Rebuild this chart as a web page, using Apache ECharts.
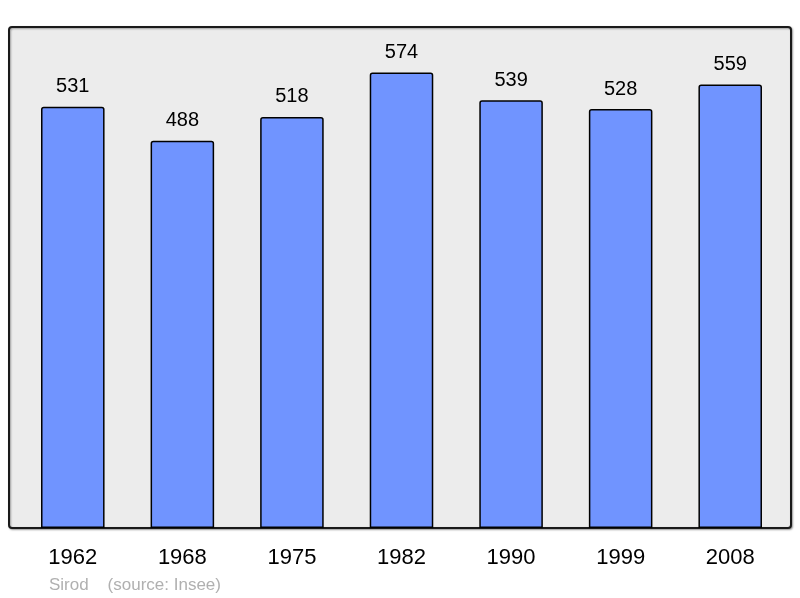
<!DOCTYPE html>
<html>
<head>
<meta charset="utf-8">
<script src="https://cdn.jsdelivr.net/npm/echarts@6/dist/echarts.min.js"></script>
<style>html,body{margin:0;padding:0;background:#fff}#c{width:800px;height:598px}</style>
</head>
<body>
<div id="c"></div>
<script>
var categories = ['1962', '1968', '1975', '1982', '1990', '1999', '2008'];
var population = [531, 488, 518, 574, 539, 528, 559];
var sourceText = 'Sirod    (source: Insee)';

var chart = echarts.init(document.getElementById('c'));
chart.setOption({
  animation: false,
  textStyle: { fontFamily: 'Liberation Sans, Arial, sans-serif' },
  graphic: [
    {
      type: 'rect', z: -10, silent: true,
      shape: { x: 9, y: 27, width: 782, height: 501, r: 3 },
      style: { fill: '#ececec', stroke: '#1a1a1a', lineWidth: 2,
               shadowBlur: 2, shadowColor: 'rgba(0,0,0,0.35)', shadowOffsetX: 1, shadowOffsetY: 1 }
    },
    {
      type: 'text', left: 49, top: 577, silent: true,
      style: { text: sourceText, fill: '#b0b0b0', font: '17px Liberation Sans, Arial, sans-serif' }
    }
  ],
  grid: { left: 18, right: 15, top: 27, bottom: 70 },
  xAxis: {
    type: 'category', data: categories,
    axisLine: { show: false }, axisTick: { show: false },
    axisLabel: { color: '#000', fontSize: 22, margin: 19 }
  },
  yAxis: {
    type: 'value', min: 0, max: 631.4, show: false,
    splitLine: { show: false }
  },
  series: [{
    type: 'bar', data: population, barCategoryGap: '42%',
    itemStyle: { color: '#7094ff', borderColor: '#000', borderWidth: 1.5, borderRadius: [2, 2, 0, 0] },
    label: { show: true, position: 'top', distance: 10, color: '#000', fontSize: 20 }
  }]
});
</script>
</body>
</html>
